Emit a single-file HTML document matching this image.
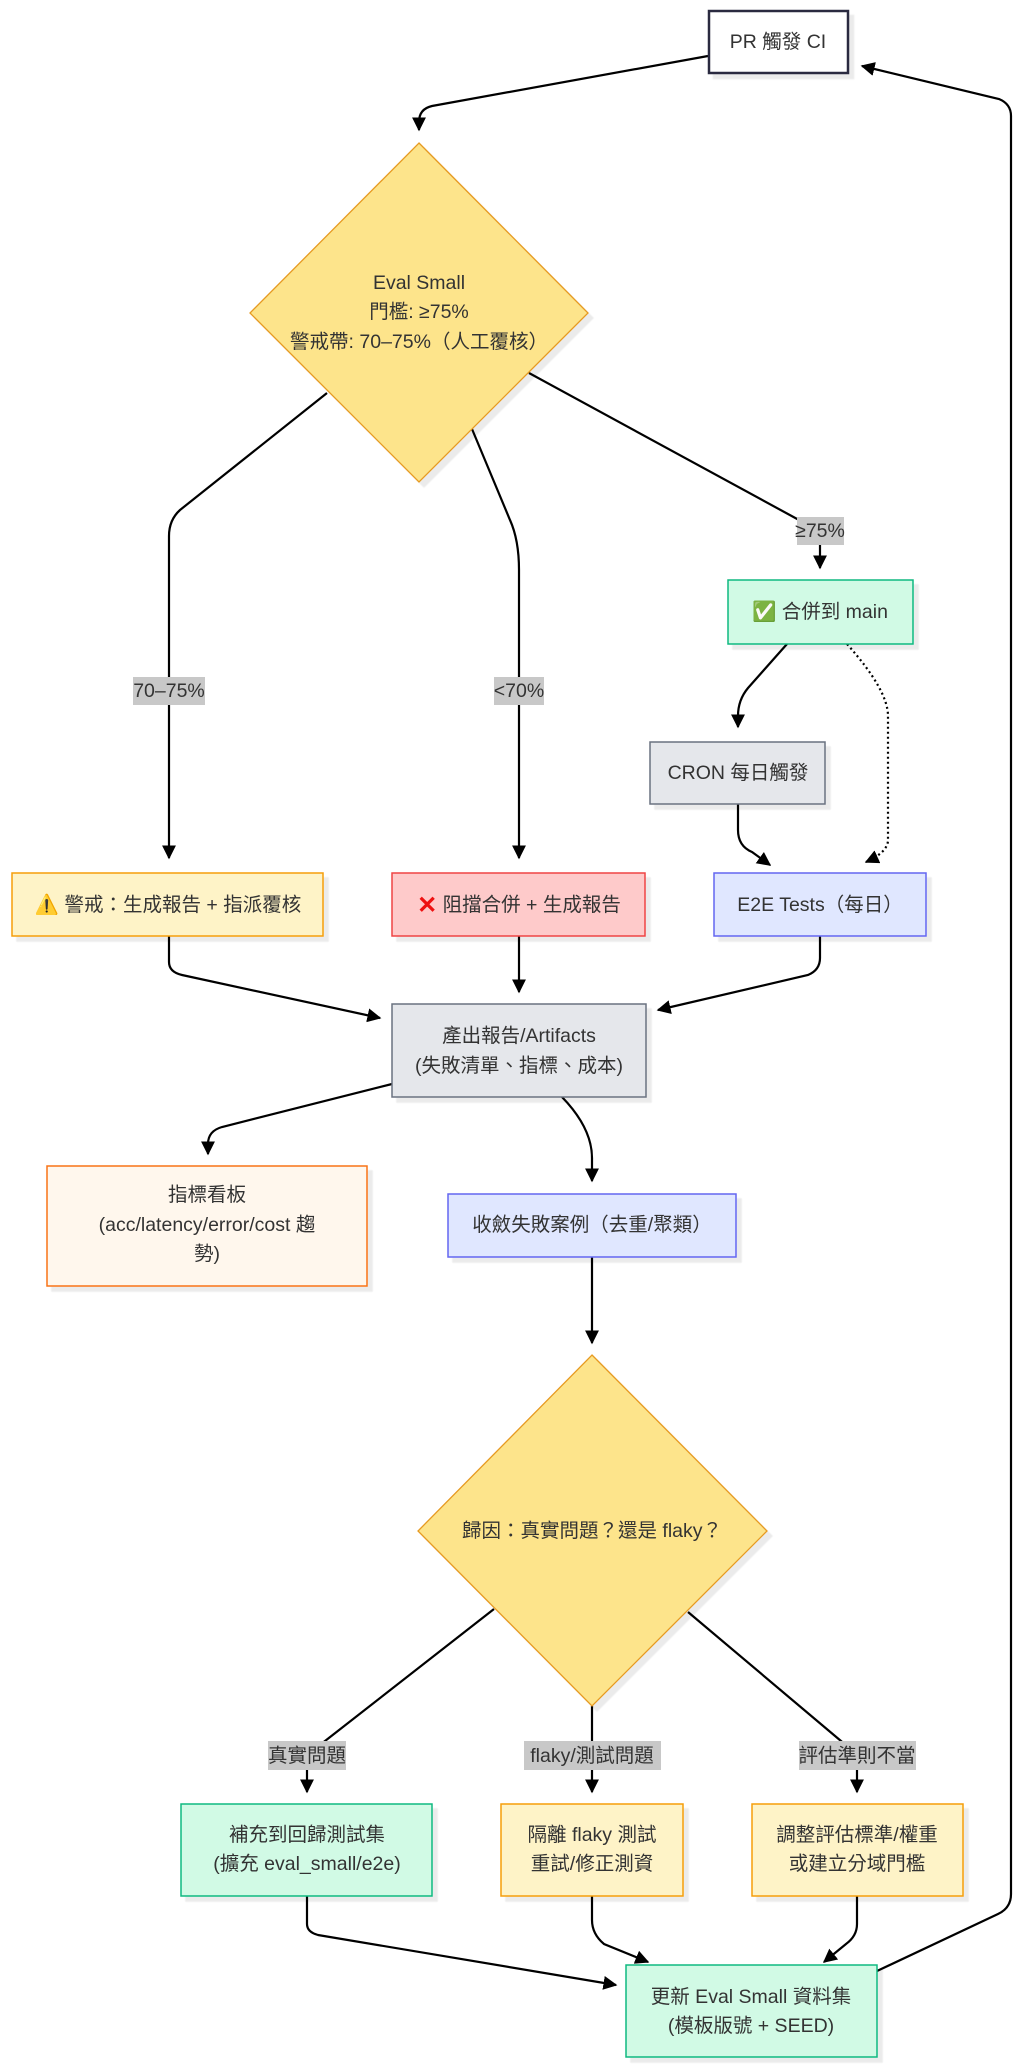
<!DOCTYPE html>
<html><head><meta charset="utf-8">
<style>
html,body{margin:0;padding:0;background:#fff;}
svg{display:block;}
text{font-family:"Liberation Sans","Noto Sans CJK TC",sans-serif;font-size:19.5px;fill:#333;text-anchor:middle;dominant-baseline:central;}
.e{fill:none;stroke:#000;stroke-width:2.2;}
.lb{fill:#c8c8c8;}
</style></head><body>
<svg width="1024" height="2068" viewBox="0 0 1024 2068" xmlns="http://www.w3.org/2000/svg">
<defs>
<marker id="ar" viewBox="0 0 10 10" refX="9" refY="5" markerWidth="14" markerHeight="14" orient="auto" markerUnits="userSpaceOnUse"><path d="M0,0 L10,5 L0,10 z" fill="#000"/></marker>
<filter id="s" x="-10%" y="-10%" width="130%" height="130%"><feDropShadow dx="5" dy="5" stdDeviation="0.5" flood-color="#000" flood-opacity="0.08"/></filter>
</defs>

<!-- edges -->
<path class="e" d="M708,56 L432,106 Q419,109 419,122 L419,130" marker-end="url(#ar)"/>
<path class="e" d="M877,1971 L998,1914 Q1011,1908 1011,1894 L1011,116 Q1011,104 999,99 L862,66" marker-end="url(#ar)"/>

<path class="e" d="M327,393 L180,510 Q169,520 169,536 L169,858" marker-end="url(#ar)"/>
<path class="e" d="M472,429 L510,520 Q519,540 519,570 L519,858" marker-end="url(#ar)"/>
<path class="e" d="M529,373 L810,526 L820,532 L820,568" marker-end="url(#ar)"/>

<path class="e" d="M787,644 L748,688 Q738,700 738,716 L738,727" marker-end="url(#ar)"/>
<path class="e" d="M847,644 Q888,690 888,716 L888,840 Q888,852 866,862" stroke-dasharray="2,3" marker-end="url(#ar)"/>
<path class="e" d="M738,804 L738,830 Q738,846 752,852 L770,865" marker-end="url(#ar)"/>

<path class="e" d="M169,936 L169,962 Q169,972 182,975 L380,1018" marker-end="url(#ar)"/>
<path class="e" d="M519,936 L519,992" marker-end="url(#ar)"/>
<path class="e" d="M820,936 L820,958 Q820,970 808,975 L658,1010" marker-end="url(#ar)"/>

<path class="e" d="M392,1084 L222,1127 Q208,1131 208,1144 L208,1154" marker-end="url(#ar)"/>
<path class="e" d="M562,1097 Q592,1128 592,1158 L592,1181" marker-end="url(#ar)"/>
<path class="e" d="M592,1257 L592,1343" marker-end="url(#ar)"/>

<path class="e" d="M494,1609 L325,1741 L307,1755 L307,1792" marker-end="url(#ar)"/>
<path class="e" d="M592,1706 L592,1792" marker-end="url(#ar)"/>
<path class="e" d="M688,1612 L841,1741 L857,1755 L857,1792" marker-end="url(#ar)"/>

<path class="e" d="M307,1896 L307,1924 Q307,1932 318,1935 L616,1985" marker-end="url(#ar)"/>
<path class="e" d="M592,1896 L592,1920 Q592,1934 604,1944 L648,1962" marker-end="url(#ar)"/>
<path class="e" d="M857,1896 L857,1924 Q857,1936 846,1944 L824,1962" marker-end="url(#ar)"/>

<!-- edge labels -->
<rect class="lb" x="133" y="677" width="72" height="28"/><text x="169" y="691">70–75%</text>
<rect class="lb" x="494" y="677" width="50" height="28"/><text x="519" y="691">&lt;70%</text>
<rect class="lb" x="797" y="517" width="47" height="28"/><text x="820" y="531">≥75%</text>
<rect class="lb" x="268" y="1741" width="78" height="29"/><text x="307" y="1756">真實問題</text>
<rect class="lb" x="524" y="1741" width="137" height="29"/><text x="592" y="1756">flaky/測試問題</text>
<rect class="lb" x="799" y="1741" width="117" height="29"/><text x="857" y="1756">評估準則不當</text>

<!-- nodes -->
<g filter="url(#s)">
<rect x="709" y="11" width="139" height="62" fill="#fff" stroke="#2b2b40" stroke-width="2.5"/>
<polygon points="419,143 588,313 419,482 250,313" fill="#fde48b" stroke="#e69a20" stroke-width="1.3"/>
<rect x="728" y="580" width="185" height="64" fill="#d1fae5" stroke="#10b981" stroke-width="1.5"/>
<rect x="650" y="742" width="175" height="62" fill="#e5e7eb" stroke="#6b7280" stroke-width="1.5"/>
<rect x="12" y="873" width="311" height="63" fill="#fef3c7" stroke="#f59e0b" stroke-width="1.5"/>
<rect x="392" y="873" width="253" height="63" fill="#fecaca" stroke="#ef4444" stroke-width="1.5"/>
<rect x="714" y="873" width="212" height="63" fill="#e0e7ff" stroke="#6366f1" stroke-width="1.5"/>
<rect x="392" y="1004" width="254" height="93" fill="#e5e7eb" stroke="#6b7280" stroke-width="1.5"/>
<rect x="47" y="1166" width="320" height="120" fill="#fff7ed" stroke="#f97316" stroke-width="1.5"/>
<rect x="448" y="1194" width="288" height="63" fill="#e0e7ff" stroke="#6366f1" stroke-width="1.5"/>
<polygon points="592,1355 767,1531 592,1706 418,1531" fill="#fde48b" stroke="#e69a20" stroke-width="1.3"/>
<rect x="181" y="1804" width="251" height="92" fill="#d1fae5" stroke="#10b981" stroke-width="1.5"/>
<rect x="501" y="1804" width="182" height="92" fill="#fef3c7" stroke="#f59e0b" stroke-width="1.5"/>
<rect x="752" y="1804" width="211" height="92" fill="#fef3c7" stroke="#f59e0b" stroke-width="1.5"/>
<rect x="626" y="1965" width="251" height="92" fill="#d1fae5" stroke="#10b981" stroke-width="1.5"/>
</g>

<!-- node text -->
<text x="778" y="42">PR 觸發 CI</text>
<text x="419" y="283">Eval Small</text>
<text x="419" y="312">門檻: ≥75%</text>
<text x="419" y="342">警戒帶: 70–75%（人工覆核）</text>
<text x="820" y="612">✅ 合併到 main</text>
<text x="738" y="773">CRON 每日觸發</text>
<text x="168" y="905">⚠️ 警戒：生成報告 + 指派覆核</text>
<text x="519" y="905"><tspan style="fill:#e11;font-weight:bold;font-size:24px">✕</tspan> 阻擋合併 + 生成報告</text>
<text x="820" y="905">E2E Tests（每日）</text>
<text x="519" y="1036">產出報告/Artifacts</text>
<text x="519" y="1066">(失敗清單、指標、成本)</text>
<text x="207" y="1195">指標看板</text>
<text x="207" y="1225">(acc/latency/error/cost 趨</text>
<text x="207" y="1254">勢)</text>
<text x="592" y="1225">收斂失敗案例（去重/聚類）</text>
<text x="592" y="1531">歸因：真實問題？還是 flaky？</text>
<text x="307" y="1835">補充到回歸測試集</text>
<text x="307" y="1864">(擴充 eval_small/e2e)</text>
<text x="592" y="1835">隔離 flaky 測試</text>
<text x="592" y="1864">重試/修正測資</text>
<text x="857" y="1835">調整評估標準/權重</text>
<text x="857" y="1864">或建立分域門檻</text>
<text x="751" y="1997">更新 Eval Small 資料集</text>
<text x="751" y="2026">(模板版號 + SEED)</text>
</svg>
</body></html>
